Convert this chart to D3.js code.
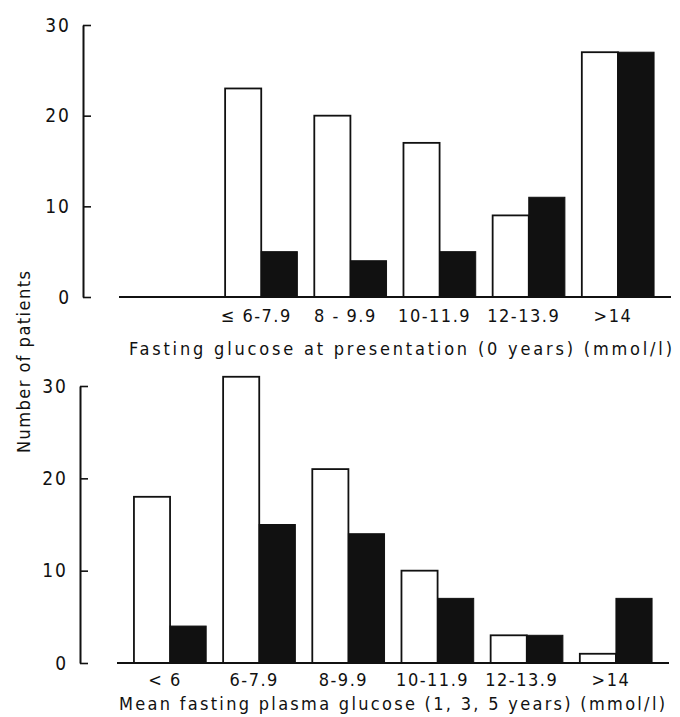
<!DOCTYPE html>
<html>
<head>
<meta charset="utf-8">
<script src="https://cdn.jsdelivr.net/npm/d3@7"></script>
<style>
  body { margin: 0; background: #fff; }
  svg { display: block; }
  text { font-family: "Liberation Sans Narrow", "DejaVu Sans Condensed", "Arial Narrow", sans-serif; fill: #111; }
</style>
</head>
<body>
<svg width="680" height="717"></svg>
<script>
// top panel: fasting glucose at presentation
var topCategories = ["<6", "6-7.9", "8-9.9", "10-11.9", "12-13.9", ">14"];
var topLabels = ["", "\u2264 6-7.9", "8 - 9.9", "10-11.9", "12-13.9", ">14"];
var topOpen = [0, 23, 20, 17, 9, 27];
var topFilled = [0, 5, 4, 5, 11, 27];

// bottom panel: mean fasting plasma glucose 1, 3, 5 years
var bottomCategories = ["<6", "6-7.9", "8-9.9", "10-11.9", "12-13.9", ">14"];
var bottomLabels = ["< 6", "6-7.9", "8-9.9", "10-11.9", "12-13.9", ">14"];
var bottomOpen = [18, 31, 21, 10, 3, 1];
var bottomFilled = [4, 15, 14, 7, 3, 7];

var yTicks = [0, 10, 20, 30];

var svg = d3.select("svg");

function drawPanel(opts) {
  var g = svg.append("g");

  var x = d3.scaleBand()
    .domain(opts.categories)
    .range(opts.xRange)
    .paddingInner(0.19)
    .paddingOuter(0.19);

  var x1 = d3.scaleBand()
    .domain(["open", "filled"])
    .range([0, x.bandwidth()]);

  var y = d3.scaleLinear().domain([0, 30]).range(opts.yRange);

  var rows = opts.categories.map(function(c, i) {
    return { cat: c, label: opts.labels[i], open: opts.open[i], filled: opts.filled[i] };
  });

  // y axis, ticks pointing inwards
  var axis = g.append("g")
    .attr("transform", "translate(" + opts.axisX + ",0)")
    .call(d3.axisLeft(y).tickValues(yTicks).tickSize(-8).tickSizeOuter(0).tickPadding(12));
  axis.select(".domain").attr("stroke", "#111").attr("stroke-width", 2);
  axis.selectAll(".tick line").attr("stroke", "#111").attr("stroke-width", 1.6);
  axis.selectAll(".tick text")
    .attr("font-size", 19)
    .attr("letter-spacing", "2px")
    .attr("fill", "#111");

  var groups = g.selectAll(".grp")
    .data(rows)
    .enter()
    .append("g")
    .attr("class", "grp")
    .attr("transform", function(d) { return "translate(" + x(d.cat) + ",0)"; });

  groups.filter(function(d) { return d.open > 0; })
    .append("rect")
    .attr("x", x1("open"))
    .attr("y", function(d) { return y(d.open); })
    .attr("width", x1.bandwidth())
    .attr("height", function(d) { return y(0) - y(d.open); })
    .attr("fill", "#fff")
    .attr("stroke", "#111")
    .attr("stroke-width", 1.8);

  groups.filter(function(d) { return d.filled > 0; })
    .append("rect")
    .attr("x", x1("filled"))
    .attr("y", function(d) { return y(d.filled); })
    .attr("width", x1.bandwidth())
    .attr("height", function(d) { return y(0) - y(d.filled); })
    .attr("fill", "#111")
    .attr("stroke", "#111")
    .attr("stroke-width", 1);

  // baseline
  g.append("line")
    .attr("x1", opts.xRange[0])
    .attr("x2", opts.xRange[1])
    .attr("y1", y(0))
    .attr("y2", y(0))
    .attr("stroke", "#111")
    .attr("stroke-width", 2.2);

  groups.append("text")
    .attr("x", x.bandwidth() / 2 - 5)
    .attr("y", y(0) + opts.labelGap)
    .attr("text-anchor", "middle")
    .attr("font-size", 18)
    .attr("letter-spacing", "1.5px")
    .text(function(d) { return d.label; });

  g.append("text")
    .attr("x", opts.titleX[0])
    .attr("y", opts.titleY)
    .attr("font-size", 18)
    .attr("textLength", opts.titleX[1] - opts.titleX[0])
    .attr("lengthAdjust", "spacing")
    .text(opts.title);
}

drawPanel({
  categories: topCategories,
  labels: topLabels,
  open: topOpen,
  filled: topFilled,
  xRange: [119, 671],
  yRange: [297, 25],
  axisX: 83,
  labelGap: 25,
  title: "Fasting glucose at presentation (0 years) (mmol/l)",
  titleX: [129, 672],
  titleY: 355
});

drawPanel({
  categories: bottomCategories,
  labels: bottomLabels,
  open: bottomOpen,
  filled: bottomFilled,
  xRange: [117, 669],
  yRange: [663, 386],
  axisX: 80,
  labelGap: 23,
  title: "Mean fasting plasma glucose (1, 3, 5 years) (mmol/l)",
  titleX: [119, 665],
  titleY: 710
});

// shared y title
svg.append("text")
  .attr("transform", "translate(30,362) rotate(-90)")
  .attr("text-anchor", "middle")
  .attr("font-size", 18)
  .attr("textLength", 182)
  .attr("lengthAdjust", "spacing")
  .text("Number of patients");
</script>
</body>
</html>
